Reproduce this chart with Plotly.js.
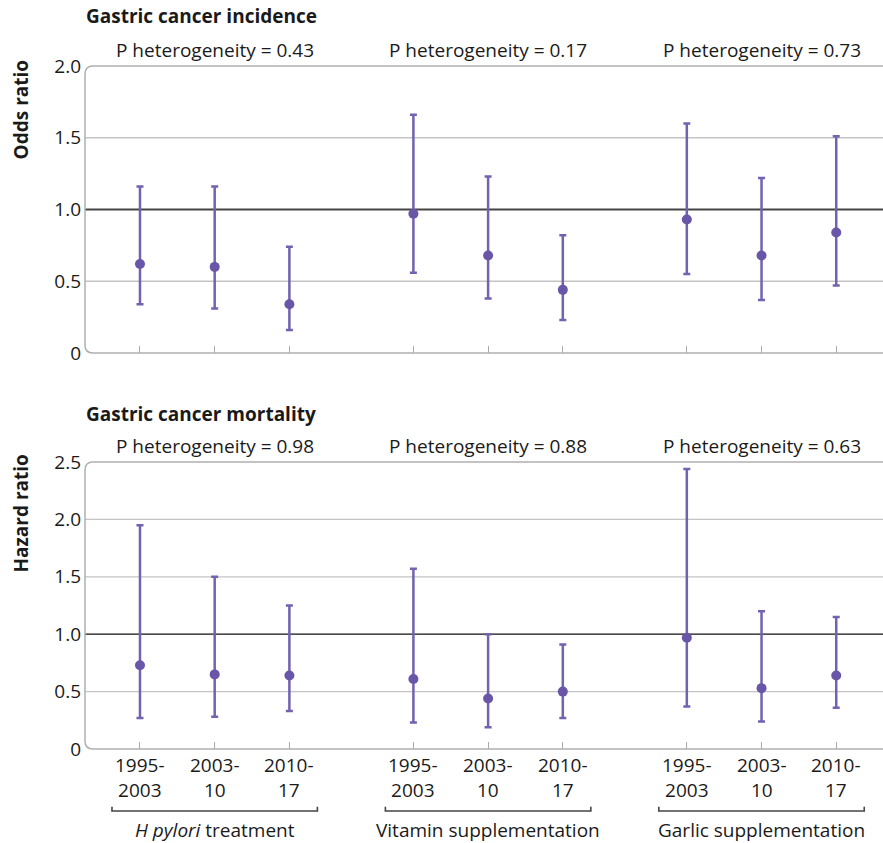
<!DOCTYPE html>
<html>
<head>
<meta charset="utf-8">
<script src="https://cdn.plot.ly/plotly-3.0.1.min.js"></script>
<style>html,body{margin:0;padding:0;background:#fff;}#chart{width:883px;height:843px;}</style>
</head>
<body>
<div id="chart"></div>
<script>
// ---- data ----
const groups = ["<i>H pylori</i> treatment", "Vitamin supplementation", "Garlic supplementation"];
const periods = ["1995-<br>2003", "2003-<br>10", "2010-<br>17"];

// Gastric cancer incidence (odds ratio)
const incidenceOR    = [0.62, 0.60, 0.34, 0.97, 0.68, 0.44, 0.93, 0.68, 0.84];
const incidenceLower = [0.34, 0.31, 0.16, 0.56, 0.38, 0.23, 0.55, 0.37, 0.47];
const incidenceUpper = [1.16, 1.16, 0.74, 1.66, 1.23, 0.82, 1.60, 1.22, 1.51];
const incidenceP     = ["0.43", "0.17", "0.73"];
const incidenceTicks = [0, 0.5, 1, 1.5, 2];
const incidenceTickText = ["0", "0.5", "1.0", "1.5", "2.0"];

// Gastric cancer mortality (hazard ratio)
const mortalityHR    = [0.73, 0.65, 0.64, 0.61, 0.44, 0.50, 0.97, 0.53, 0.64];
const mortalityLower = [0.27, 0.28, 0.33, 0.23, 0.19, 0.27, 0.37, 0.24, 0.36];
const mortalityUpper = [1.95, 1.50, 1.25, 1.57, 1.00, 0.91, 2.44, 1.20, 1.15];
const mortalityP     = ["0.98", "0.88", "0.63"];
const mortalityTicks = [0, 0.5, 1, 1.5, 2, 2.5];
const mortalityTickText = ["0", "0.5", "1.0", "1.5", "2.0", "2.5"];

// ---- layout helpers ----
const GROUP_STEP = 3.66;
const xs = [];
const tickText = [];
groups.forEach((g, gi) => periods.forEach((p, pi) => { xs.push(gi * GROUP_STEP + pi); tickText.push(p); }));
const groupCenters = groups.map((g, gi) => gi * GROUP_STEP + 1);

const PURPLE = "#6a56a8";
const BAR = "#7262b0";
const FONT = "'Open Sans', 'Noto Sans', sans-serif";
const FS = 19;
const TXT = "#1a1a1a";

function trace(vals, lo, hi, xa, ya) {
  return {
    type: "scatter", mode: "markers", x: xs, y: vals, xaxis: xa, yaxis: ya,
    marker: {color: PURPLE, size: 10},
    error_y: {type: "data", symmetric: false,
      array: vals.map((v, i) => hi[i] - v),
      arrayminus: vals.map((v, i) => v - lo[i]),
      color: BAR, thickness: 2.5, width: 3.5},
    hoverinfo: "skip", showlegend: false
  };
}

const data = [
  trace(incidenceOR, incidenceLower, incidenceUpper, "x", "y"),
  trace(mortalityHR, mortalityLower, mortalityUpper, "x2", "y2")
];

const xr = [-0.736, 9.946];
const topDom = [0.5798, 1];
const botDom = [0, 0.4202];

function xaxis(anchor) {
  return {
    range: xr, domain: [0, 1], anchor: anchor,
    tickmode: "array", tickvals: xs, ticktext: xs.map(() => ""),
    ticks: "inside", ticklen: 7, tickcolor: "#aaaaaa", tickwidth: 1,
    showgrid: false, zeroline: false, showline: false, fixedrange: true
  };
}
function yaxis(dom, tv, tt, anchor) {
  return {
    domain: dom, range: [0, tv[tv.length - 1]], anchor: anchor,
    tickmode: "array", tickvals: tv, ticktext: tt,
    showgrid: false, zeroline: false, showline: false, ticks: "", ticklabelstandoff: 3,
    tickfont: {family: FONT, size: FS, color: TXT}, fixedrange: true
  };
}

// frame paths (top, left, bottom with rounded left corners)
function framePath(y0, y1) {
  const rx = 8 / 798, ry = 8 / 683;
  return `M 1 ${y1} L ${rx} ${y1} Q 0 ${y1} 0 ${y1 - ry} L 0 ${y0 + ry} Q 0 ${y0} ${rx} ${y0} L 1 ${y0}`;
}

const shapes = [];
// gridlines (skip 0, reference line at 1 and top frame)
[[incidenceTicks, "y"], [mortalityTicks, "y2"]].forEach(([tv, ya]) => {
  tv.slice(1, -1).forEach(v => {
    if (v !== 1) shapes.push({type: "line", xref: "paper", yref: ya, x0: 0, x1: 1, y0: v, y1: v, line: {color: "#c4c4c4", width: 1.3}, layer: "between"});
  });
});
shapes.push(
  {type: "path", xref: "paper", yref: "paper", path: framePath(topDom[0], topDom[1]), line: {color: "#b0b0b0", width: 1.5}},
  {type: "path", xref: "paper", yref: "paper", path: framePath(botDom[0], botDom[1]), line: {color: "#b0b0b0", width: 1.5}},
  {type: "line", xref: "paper", yref: "y", x0: 0, x1: 1, y0: 1, y1: 1, line: {color: "#444444", width: 2}, layer: "between"},
  {type: "line", xref: "paper", yref: "y2", x0: 0, x1: 1, y0: 1, y1: 1, line: {color: "#111111", width: 1.3}, layer: "between"}
);

function ann(text, xref, x, y, extra) {
  return Object.assign({text: text, xref: xref, yref: "paper", x: x, y: y, xanchor: "center", yanchor: "middle",
    showarrow: false, borderpad: 0, font: {family: FONT, size: FS, color: TXT}}, extra || {});
}

const annotations = [
  ann("<b>Gastric cancer incidence</b>", "paper", 0, 1.0732, {xanchor: "left"}),
  ann("<b>Gastric cancer mortality</b>", "paper", 0, 0.4905, {xanchor: "left"}),
  ann("<b>Odds ratio</b>", "paper", -0.0797, 0.9356, {textangle: -90}),
  ann("<b>Hazard ratio</b>", "paper", -0.0797, 0.3455, {textangle: -90})
];

xs.forEach((x, i) => {
  annotations.push(ann(tickText[i], "x2", x, -0.0410));
});

groupCenters.forEach((c, gi) => {
  annotations.push(ann("P heterogeneity = " + incidenceP[gi], "x", c, 1.0227));
  annotations.push(ann("P heterogeneity = " + mortalityP[gi], "x2", c, 0.4436));
  annotations.push(ann(groups[gi], "x2", c, -0.1186));
  const a = c - 1.375, b = c + 1.375;
  const yb = -0.0908, yt = -0.0845;
  shapes.push({type: "path", xref: "x2", yref: "paper", path: `M ${a} ${yt} L ${a} ${yb} L ${b} ${yb} L ${b} ${yt}`, line: {color: "#444444", width: 1.6}});
});

const layout = {
  width: 883, height: 843,
  margin: {l: 85, r: 0, t: 66, b: 94},
  paper_bgcolor: "#ffffff", plot_bgcolor: "#ffffff",
  font: {family: FONT, color: TXT},
  xaxis: xaxis("y"),
  yaxis: yaxis(topDom, incidenceTicks, incidenceTickText, "x"),
  xaxis2: xaxis("y2"),
  yaxis2: yaxis(botDom, mortalityTicks, mortalityTickText, "x2"),
  shapes: shapes, annotations: annotations, showlegend: false
};

Plotly.newPlot("chart", data, layout, {displayModeBar: false, staticPlot: true});
</script>
</body>
</html>
